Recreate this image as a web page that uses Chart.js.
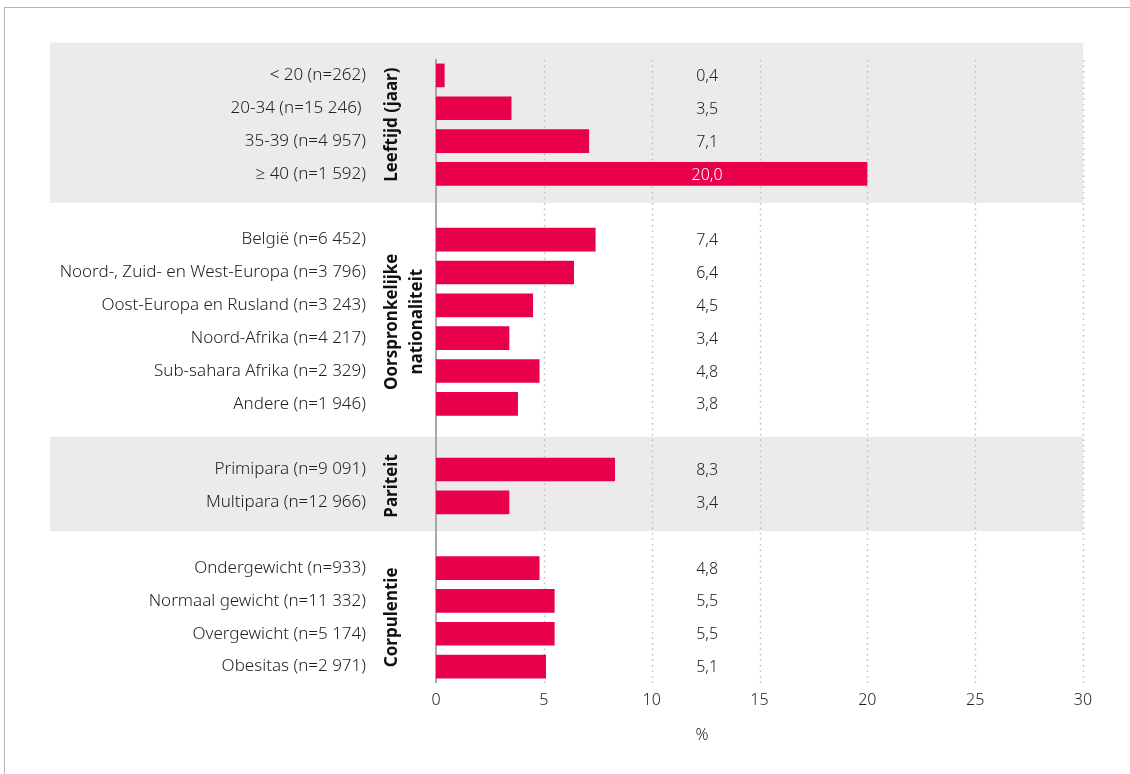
<!DOCTYPE html>
<html>
<head>
<meta charset="utf-8">
<script src="https://cdn.jsdelivr.net/npm/chart.js@4/dist/chart.umd.min.js"></script>
<style>
  html, body { margin: 0; padding: 0; background: #fff; }
  #wrap { position: relative; width: 1130px; height: 774px; }
  #frame { position: absolute; left: 4px; top: 7px; right: 0; bottom: 0;
           border-left: 1px solid #b4b4b4; border-top: 1px solid #b4b4b4; }
  canvas { position: absolute; left: 0; top: 0; }
</style>
</head>
<body>
<div id="wrap">
  <div id="frame"></div>
  <canvas id="chart" width="1130" height="774"></canvas>
</div>
<script>
// rows, top to bottom; empty strings are spacer rows between groups
const categories = [
  '< 20 (n=262)', '20-34 (n=15 246) ', '35-39 (n=4 957)', '≥ 40 (n=1 592)',
  '',
  'België (n=6 452)', 'Noord-, Zuid- en West-Europa (n=3 796)', 'Oost-Europa en Rusland (n=3 243)',
  'Noord-Afrika (n=4 217)', 'Sub-sahara Afrika (n=2 329)', 'Andere (n=1 946)',
  '',
  'Primipara (n=9 091)', 'Multipara (n=12 966)',
  '',
  'Ondergewicht (n=933)', 'Normaal gewicht (n=11 332)', 'Overgewicht (n=5 174)', 'Obesitas (n=2 971)'
];
const percentages = [
  0.4, 3.5, 7.1, 20.0,
  null,
  7.4, 6.4, 4.5, 3.4, 4.8, 3.8,
  null,
  8.3, 3.4,
  null,
  4.8, 5.5, 5.5, 5.1
];
const xTicks = [0, 5, 10, 15, 20, 25, 30];

// groups: title lines, first and last row, shaded background or not
const groupTitles = [['Leeftijd (jaar)'], ['Oorspronkelijke', 'nationaliteit'], ['Pariteit'], ['Corpulentie']];
const groupFirst = [0, 5, 12, 15];
const groupLast = [3, 10, 13, 18];
const groupShaded = [true, false, true, false];

const FONT = '"Noto Sans", "Open Sans", sans-serif';
const BAR = '#e8004b';
const TEXT = '#222222';

const fmt = v => v.toFixed(1).replace('.', ',');

const decor = {
  id: 'decor',
  beforeDraw(chart) {
    // grey group bands, under the axis labels
    const { ctx, chartArea, scales: { y } } = chart;
    const rowH = y.getPixelForValue(1) - y.getPixelForValue(0);
    ctx.save();
    ctx.fillStyle = '#ebebeb';
    groupFirst.forEach((first, i) => {
      if (!groupShaded[i]) return;
      const top = y.getPixelForValue(first) - rowH;
      const bottom = y.getPixelForValue(groupLast[i]) + rowH - 4;
      ctx.fillRect(50, top, chartArea.right - 50, bottom - top);
    });
    ctx.restore();
  },
  beforeDatasetsDraw(chart) {
    const { ctx, chartArea, scales: { x } } = chart;
    ctx.save();
    // dotted vertical grid
    ctx.strokeStyle = '#bcbcbc';
    ctx.lineWidth = 1.5;
    ctx.setLineDash([1.5, 4]);
    xTicks.forEach(t => {
      if (t === 0) return;
      const px = Math.round(x.getPixelForValue(t)) + 0.5;
      ctx.beginPath();
      ctx.moveTo(px, chartArea.top + 1);
      ctx.lineTo(px, chartArea.bottom);
      ctx.stroke();
    });
    // zero axis line
    ctx.setLineDash([]);
    ctx.strokeStyle = '#a8a8a8';
    ctx.lineWidth = 2;
    const x0 = x.getPixelForValue(0);
    ctx.beginPath();
    ctx.moveTo(x0, chartArea.top);
    ctx.lineTo(x0, chartArea.bottom);
    ctx.stroke();
    ctx.restore();
  },
  afterDatasetsDraw(chart) {
    const { ctx, chartArea, scales: { x, y } } = chart;
    ctx.save();
    // value column
    const colX = chartArea.left + 0.419 * (chartArea.right - chartArea.left);
    ctx.font = '300 16px ' + FONT;
    ctx.textAlign = 'center';
    ctx.textBaseline = 'middle';
    percentages.forEach((v, i) => {
      if (v === null) return;
      const label = fmt(v);
      const w = ctx.measureText(label).width;
      const inside = x.getPixelForValue(v) > colX + w / 2;
      ctx.fillStyle = inside ? '#ffffff' : TEXT;
      ctx.fillText(label, colX, y.getPixelForValue(i) + 1);
    });
    // rotated group titles
    ctx.font = 'bold 17px ' + FONT;
    ctx.fillStyle = '#111111';
    groupTitles.forEach((lines, i) => {
      const cy = (y.getPixelForValue(groupFirst[i]) + y.getPixelForValue(groupLast[i])) / 2;
      lines.forEach((line, k) => {
        ctx.save();
        ctx.translate(392 + k * 25, cy);
        ctx.rotate(-Math.PI / 2);
        ctx.fillText(line, 0, 0);
        ctx.restore();
      });
    });
    // axis unit
    ctx.font = '300 16px ' + FONT;
    ctx.fillStyle = TEXT;
    ctx.fillText('%', 702, 735);
    ctx.restore();
  }
};

new Chart(document.getElementById('chart'), {
  type: 'bar',
  data: {
    labels: categories,
    datasets: [{
      data: percentages,
      backgroundColor: BAR,
      borderWidth: 0,
      barPercentage: 0.72,
      categoryPercentage: 1
    }]
  },
  options: {
    indexAxis: 'y',
    responsive: false,
    animation: false,
    layout: { padding: { top: 59, right: 47, bottom: 61, left: 0 } },
    plugins: { legend: { display: false }, tooltip: { enabled: false } },
    scales: {
      x: {
        min: 0,
        max: 30,
        afterBuildTicks: scale => { scale.ticks = xTicks.map(v => ({ value: v })); },
        grid: { display: false, drawTicks: false },
        border: { display: false },
        ticks: { padding: 8, color: TEXT, font: { family: FONT, size: 16, weight: 300 } },
        afterFit: scale => { scale.height = 30; }
      },
      y: {
        grid: { display: false, drawTicks: false },
        border: { display: false },
        ticks: { padding: 70, color: TEXT, autoSkip: false, font: { family: FONT, size: 17, weight: 300 } },
        afterFit: scale => {
          scale.width = 436;
          scale.paddingTop = 0;
          scale.paddingBottom = 0;
        }
      }
    }
  },
  plugins: [decor]
});
</script>
</body>
</html>
